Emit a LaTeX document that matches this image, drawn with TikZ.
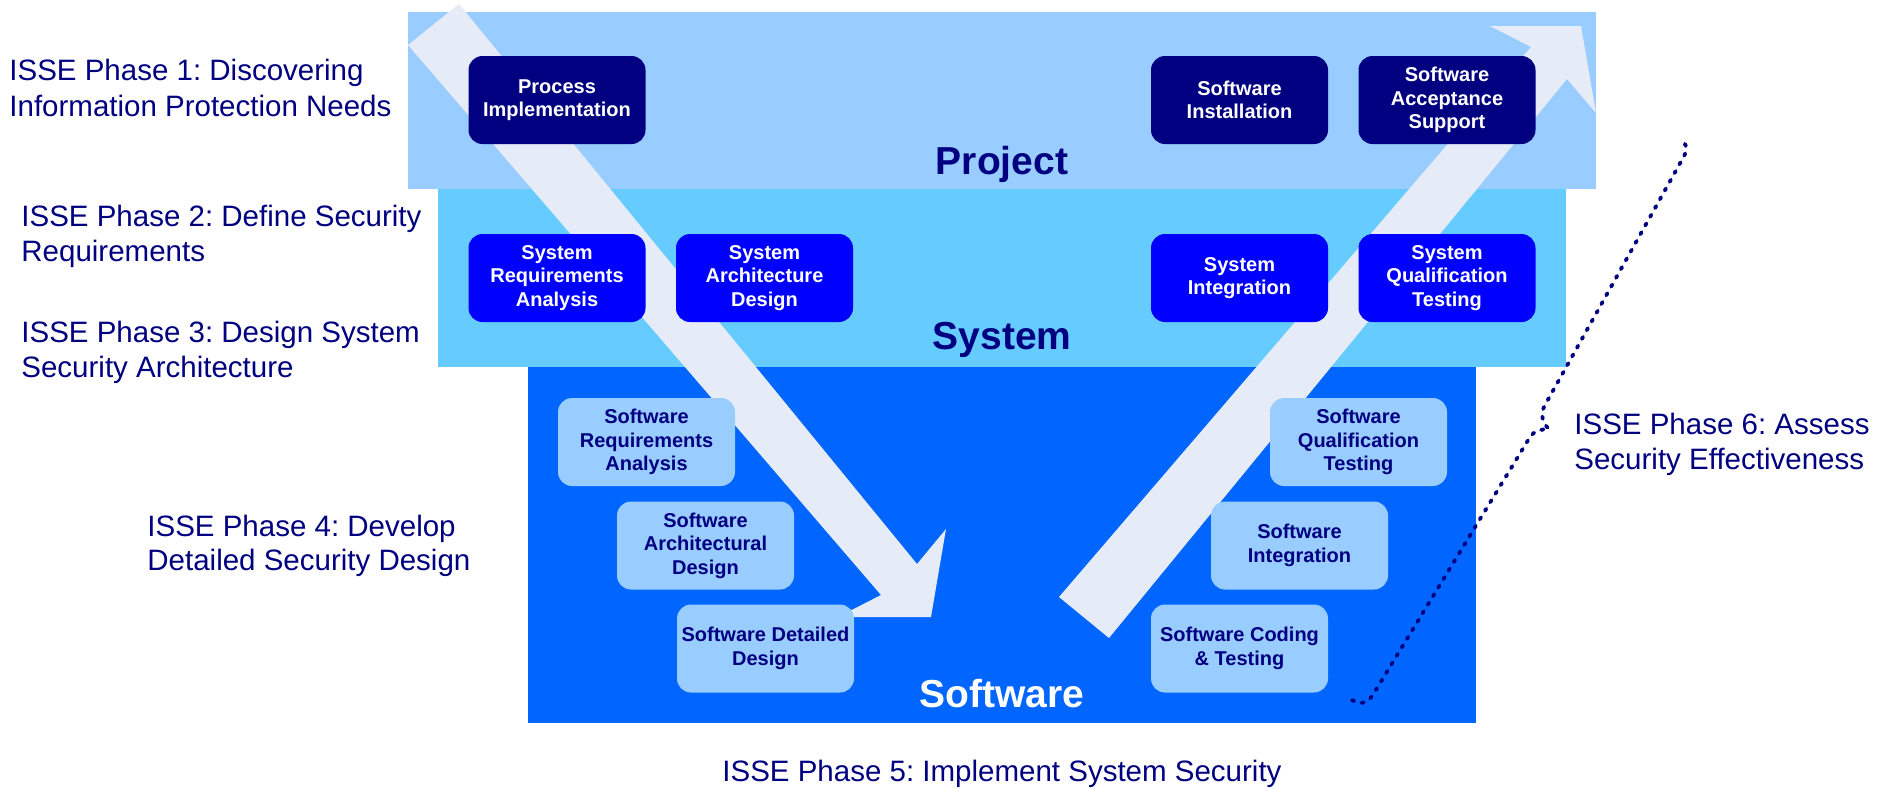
\documentclass[tikz,border=0pt]{standalone}
\usepackage{fontspec}
\setmainfont{Liberation Sans}
\frenchspacing
\definecolor{bandP}{RGB}{153,204,255}
\definecolor{bandS}{RGB}{102,204,255}
\definecolor{bandW}{RGB}{0,102,255}
\definecolor{arrowc}{RGB}{230,236,247}
\definecolor{navyc}{RGB}{0,0,128}
\definecolor{blueb}{RGB}{0,0,255}
\definecolor{lightb}{RGB}{153,204,255}
\tikzset{
  boxbase/.style={rounded corners=7pt, minimum width=88.5pt, minimum height=44pt, inner sep=0pt, align=center, font=\fontsize{10pt}{11.75pt}\selectfont\bfseries},
  pbox/.style={boxbase, fill=navyc, text=white},
  sbox/.style={boxbase, fill=blueb, text=white},
  wbox/.style={boxbase, fill=lightb, text=navyc},
  phase/.style={anchor=base west, inner sep=0pt, text=navyc, font=\fontsize{14.75pt}{17pt}\selectfont},
  bandlabel/.style={anchor=base, inner sep=0pt, font=\fontsize{19.5pt}{23pt}\selectfont\bfseries},
  bracepath/.style={navyc, line width=1.9pt, dash pattern=on 1.2pt off 3.8pt, line cap=round}
}
\begin{document}
\begin{tikzpicture}[x=0.5pt,y=-0.5pt]
\useasboundingbox (0,0) rectangle (1881,789);
\fill[white] (0,0) rectangle (1881,789);
% bands
\fill[bandP] (408,12) rectangle (1596,189);
\fill[bandS] (438,189) rectangle (1566,367);
\fill[bandW] (528,367) rectangle (1476,723);
% big arrows
\fill[arrowc] (459,4) -- (917,564) -- (946,529) -- (931,617) -- (838,617) -- (881,595) -- (408,45) -- cycle;
\fill[arrowc] (1059,597) -- (1531,47) -- (1490,26) -- (1581,26) -- (1596,113) -- (1567,79) -- (1109,638) -- cycle;
% project boxes
\node[pbox] (pi) at (557,100) {Process\\Implementation};
\node[pbox] (si) at (1239.5,100) {Software\\Installation};
\node[pbox] (sas) at (1447,100) {Software\\Acceptance\\Support};
% system boxes
\node[sbox] (sra) at (557,278) {System\\Requirements\\Analysis};
\node[sbox] (sad) at (764.5,278) {System\\Architecture\\Design};
\node[sbox] (sint) at (1239.5,278) {System\\Integration};
\node[sbox] (sqt) at (1447,278) {System\\Qualification\\Testing};
% software boxes
\node[wbox] (wra) at (646.5,442) {Software\\Requirements\\Analysis};
\node[wbox] (wad) at (705.5,545.5) {Software\\Architectural\\Design};
\node[wbox] (wdd) at (765.5,648.5) {Software Detailed\\Design};
\node[wbox] (wqt) at (1358.5,442) {Software\\Qualification\\Testing};
\node[wbox] (wint) at (1299.5,545.5) {Software\\Integration};
\node[wbox] (wct) at (1239.5,648.5) {Software Coding\\\& Testing};
% band labels
\node[bandlabel, text=navyc] (lp) at (1002,174) {Project};
\node[bandlabel, text=navyc] (ls) at (1002,349) {System};
\node[bandlabel, text=white] (lw) at (1002,707) {Software};
% phase texts
\node[phase] (p1a) at (9,80.7) {ISSE Phase 1: Discovering};
\node[phase] (p1b) at (9,116.7) {Information Protection Needs};
\node[phase] (p2a) at (21,226) {ISSE Phase 2: Define Security};
\node[phase] (p2b) at (21,261.7) {Requirements};
\node[phase] (p3a) at (21,342.7) {ISSE Phase 3: Design System};
\node[phase] (p3b) at (21,377.7) {Security Architecture};
\node[phase] (p4a) at (147,536.7) {ISSE Phase 4: Develop};
\node[phase] (p4b) at (147,570.7) {Detailed Security Design};
\node[phase] (p5) at (722,781) {ISSE Phase 5: Implement System Security};
\node[phase] (p6a) at (1574,434.6) {ISSE Phase 6: Assess};
\node[phase] (p6b) at (1574,469) {Security Effectiveness};
% dotted brace
\draw[bracepath] (1352,700) .. controls (1362,706) and (1369,702) .. (1374,693) -- (1530,437) .. controls (1534,431) and (1541,429) .. (1549,429) .. controls (1542,423) and (1540,413) .. (1545,405) -- (1683,158) .. controls (1687,151) and (1687,147) .. (1684,142);
\end{tikzpicture}
\end{document}
